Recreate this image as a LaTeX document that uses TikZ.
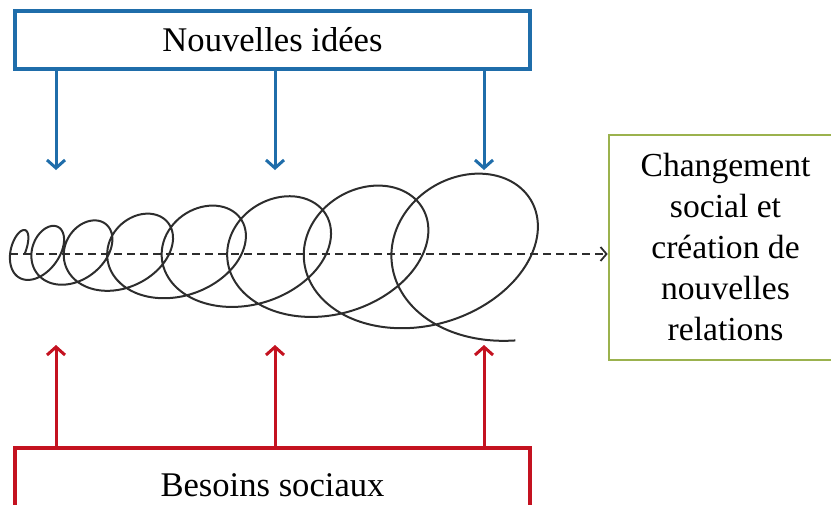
\documentclass[tikz,border=0pt]{standalone}
\usepackage{fontspec}
\setmainfont{Liberation Serif}
\usetikzlibrary{arrows.meta}
\definecolor{ideablue}{RGB}{31,109,170}
\definecolor{needred}{RGB}{196,18,32}
\definecolor{changegreen}{RGB}{155,178,78}
\definecolor{coilgray}{RGB}{45,45,45}

\begin{document}
\begin{tikzpicture}[x=0.5pt,y=-0.5pt,
  declare function={cx(\t)=19.5+23*(\t-1)+5.8*(\t-1)*(\t-1);
    rx(\t)=13+10*(\t-1)+0.27*(\t-1)*(\t-1);
    ry(\t)=24+3.5*(\t-1)+0.65*(\t-1)*(\t-1);},
  box/.style={draw,line width=1.6pt,fill=white,inner sep=0pt},
  title/.style={font=\fontsize{17.3}{20}\selectfont},
  idea arrow/.style={ideablue,line width=1.5pt,-{Straight Barb[length=4pt,width=9pt]}},
  need arrow/.style={needred,line width=1.5pt,-{Straight Barb[length=4pt,width=9pt]}},
  axis arrow/.style={coilgray,line width=0.9pt,dash pattern=on 4pt off 2.5pt,-{Straight Barb[length=3pt,width=7pt]}},
  coil/.style={coilgray,line width=1pt}]
\useasboundingbox (0,0) rectangle (831,504);
\node[box,title,draw=ideablue,minimum width=257.5pt,minimum height=29pt] (ideas) at (272.5,40) {Nouvelles idées};
\node[box,title,draw=needred,minimum width=257.5pt,minimum height=37pt] (needs) at (272.5,485) {Besoins sociaux};
\node[box,draw=changegreen,line width=1.3pt,minimum width=116.5pt,minimum height=112.5pt,
  align=center,font=\fontsize{16.8}{20.5}\selectfont] (change) at (725.5,247.5)
  {Changement\\social et\\création de\\nouvelles\\relations};
\foreach \x [count=\i] in {56,275,484} {
  \coordinate (in\i) at (\x,170);
  \coordinate (nd\i) at (\x,345);
  \draw[idea arrow] (ideas.south -| in\i) -- (in\i);
  \draw[need arrow] (needs.north -| nd\i) -- (nd\i);
}
\coordinate (axis) at (10,254);
\draw[axis arrow] (axis) -- (axis -| change.west);
\draw[coil] plot[domain=0.75:8.52,samples=600,smooth,variable=\t]
  ({cx(\t)-rx(\t)*sin(360*\t)+0.2*ry(\t)*cos(360*\t)},{254-ry(\t)*cos(360*\t)});
\end{tikzpicture}
\end{document}
